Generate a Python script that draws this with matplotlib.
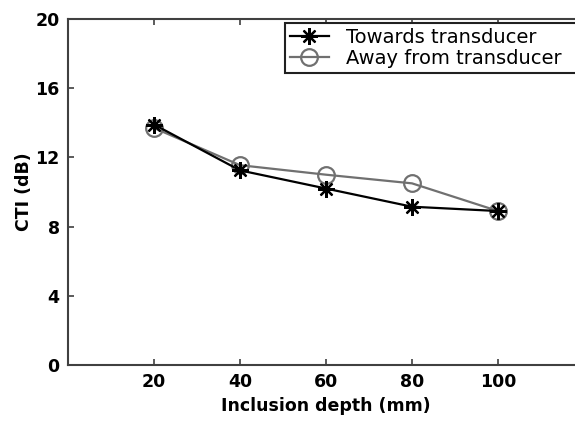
import matplotlib
matplotlib.use("Agg")
import matplotlib.pyplot as plt

# data
depth = [20, 40, 60, 80, 100]
towards = [13.9, 11.25, 10.2, 9.15, 8.9]
away = [13.7, 11.55, 11.0, 10.5, 8.9]
xticks = [20, 40, 60, 80, 100]
yticks = [0, 4, 8, 12, 16, 20]

plt.rcParams["font.family"] = "DejaVu Sans"

W, H = 575, 421
fig = plt.figure(figsize=(W / 100, H / 100), dpi=100, facecolor="white")
# axes right edge runs slightly past the picture (it is cut off in the original)
left, right, top, bottom = 68, 584, 19, 365
ax = fig.add_axes([left / W, 1 - bottom / H, (right - left) / W, (bottom - top) / H])

ast = (8, 2, 0)  # asterisk like the matlab '*'
ax.plot(depth, away, color="#707070", lw=1.6, marker="o", ms=12,
        mfc="none", mec="#707070", mew=1.6, label="Away from transducer", zorder=2)
ax.plot(depth, towards, color="black", lw=1.6, marker=ast, ms=12,
        mec="black", mew=1.6, label="Towards transducer", zorder=3)

ax.set_xlim(0, 120)
ax.set_ylim(0, 20)
ax.set_xticks(xticks)
ax.set_yticks(yticks)
ax.tick_params(direction="in", length=4, width=1.2, color="#404040",
               top=True, right=False, labelsize=12.5, pad=6)
for lab in ax.get_xticklabels() + ax.get_yticklabels():
    lab.set_fontweight("bold")
for side in ("left", "bottom", "top"):
    ax.spines[side].set_color("#404040")
    ax.spines[side].set_linewidth(1.5)
ax.spines["right"].set_visible(False)

ax.set_xlabel("Inclusion depth (mm)", fontsize=12.5, fontweight="bold", labelpad=4)
ax.set_ylabel("CTI (dB)", fontsize=12.5, fontweight="bold", labelpad=2)

handles, labels = ax.get_legend_handles_labels()
leg = ax.legend(handles[::-1], labels[::-1], loc="upper left", mode="expand",
                bbox_to_anchor=(285 / W, 0, (620 - 285) / W, 1 - 23 / H),
                bbox_transform=fig.transFigure,
                borderaxespad=0, fancybox=False, framealpha=1, edgecolor="#202020",
                fontsize=14, handlelength=2.0, handletextpad=0.9,
                borderpad=0.25, labelspacing=0.1)
leg.get_frame().set_linewidth(1.5)

fig.savefig("out.png", dpi=100, facecolor="white")
